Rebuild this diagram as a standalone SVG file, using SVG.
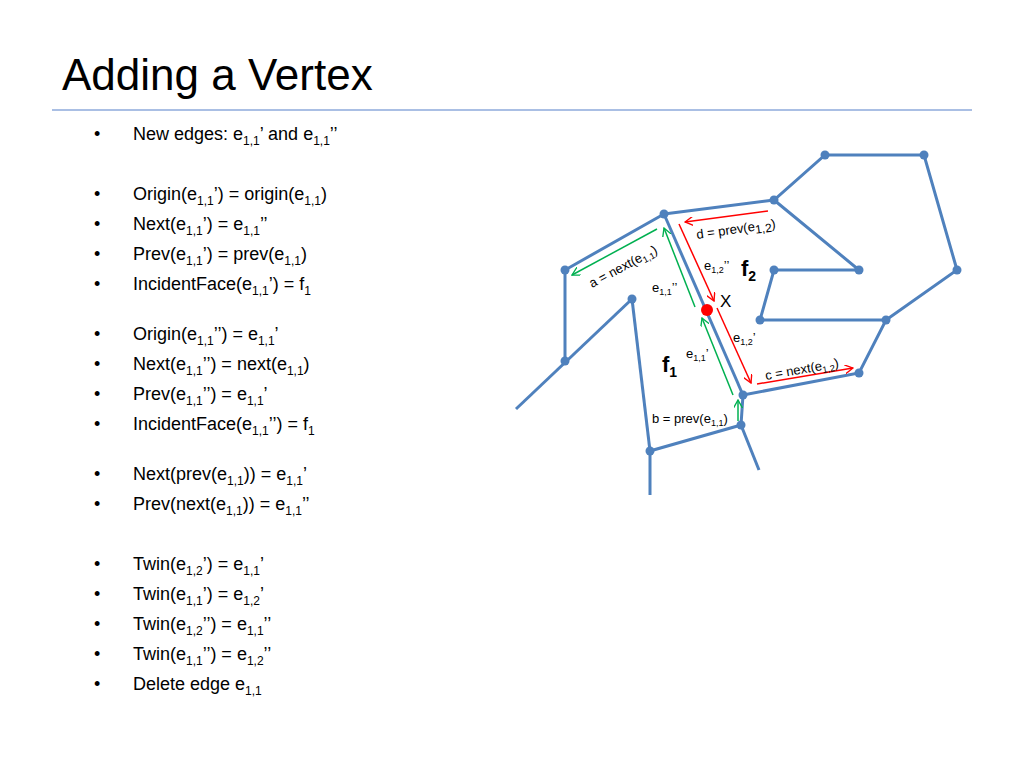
<svg xmlns="http://www.w3.org/2000/svg" width="1024" height="768" viewBox="0 0 1024 768">
<style>
text{font-family:"Liberation Sans",Arial,sans-serif;fill:#000}
.b{font-size:18px}
.s{font-size:12px}
.l{font-size:13px}
.e{stroke:#4f81bd;stroke-width:3;fill:none}
.n{fill:#4f81bd}
.g{stroke:#00b050;stroke-width:1.5;fill:none}
.r{stroke:#ff0000;stroke-width:1.5;fill:none}
</style>
<defs>
<marker id="ag" viewBox="0 0 10 10" refX="9" refY="5" markerWidth="9" markerHeight="9" orient="auto" markerUnits="userSpaceOnUse"><path d="M0,0L9,5L0,10" fill="none" stroke="#00b050" stroke-width="1.5"/></marker>
<marker id="ar" viewBox="0 0 10 10" refX="9" refY="5" markerWidth="9" markerHeight="9" orient="auto" markerUnits="userSpaceOnUse"><path d="M0,0L9,5L0,10" fill="none" stroke="#ff0000" stroke-width="1.5"/></marker>
</defs>
<rect width="1024" height="768" fill="#fff"/>
<text x="62" y="90" font-size="44">Adding a Vertex</text>
<line x1="52" y1="110" x2="972" y2="110" stroke="#8eaadb" stroke-width="1.5"/>
<g class="b">
<text x="94" y="140">•</text><text x="133" y="140">New edges: e<tspan class="s" dy="5">1,1</tspan><tspan dy="-5">’ and e</tspan><tspan class="s" dy="5">1,1</tspan><tspan dy="-5">’’</tspan></text>
<text x="94" y="200">•</text><text x="133" y="200">Origin(e<tspan class="s" dy="5">1,1</tspan><tspan dy="-5">’) = origin(e</tspan><tspan class="s" dy="5">1,1</tspan><tspan dy="-5">)</tspan></text>
<text x="94" y="230">•</text><text x="133" y="230">Next(e<tspan class="s" dy="5">1,1</tspan><tspan dy="-5">’) = e</tspan><tspan class="s" dy="5">1,1</tspan><tspan dy="-5">’’</tspan></text>
<text x="94" y="260">•</text><text x="133" y="260">Prev(e<tspan class="s" dy="5">1,1</tspan><tspan dy="-5">’) = prev(e</tspan><tspan class="s" dy="5">1,1</tspan><tspan dy="-5">)</tspan></text>
<text x="94" y="290">•</text><text x="133" y="290">IncidentFace(e<tspan class="s" dy="5">1,1</tspan><tspan dy="-5">’) = f</tspan><tspan class="s" dy="5">1</tspan></text>
<text x="94" y="340">•</text><text x="133" y="340">Origin(e<tspan class="s" dy="5">1,1</tspan><tspan dy="-5">’’) = e</tspan><tspan class="s" dy="5">1,1</tspan><tspan dy="-5">’</tspan></text>
<text x="94" y="370">•</text><text x="133" y="370">Next(e<tspan class="s" dy="5">1,1</tspan><tspan dy="-5">’’) = next(e</tspan><tspan class="s" dy="5">1,1</tspan><tspan dy="-5">)</tspan></text>
<text x="94" y="400">•</text><text x="133" y="400">Prev(e<tspan class="s" dy="5">1,1</tspan><tspan dy="-5">’’) = e</tspan><tspan class="s" dy="5">1,1</tspan><tspan dy="-5">’</tspan></text>
<text x="94" y="430">•</text><text x="133" y="430">IncidentFace(e<tspan class="s" dy="5">1,1</tspan><tspan dy="-5">’’) = f</tspan><tspan class="s" dy="5">1</tspan></text>
<text x="94" y="480">•</text><text x="133" y="480">Next(prev(e<tspan class="s" dy="5">1,1</tspan><tspan dy="-5">)) = e</tspan><tspan class="s" dy="5">1,1</tspan><tspan dy="-5">’</tspan></text>
<text x="94" y="510">•</text><text x="133" y="510">Prev(next(e<tspan class="s" dy="5">1,1</tspan><tspan dy="-5">)) = e</tspan><tspan class="s" dy="5">1,1</tspan><tspan dy="-5">’’</tspan></text>
<text x="94" y="570">•</text><text x="133" y="570">Twin(e<tspan class="s" dy="5">1,2</tspan><tspan dy="-5">’) = e</tspan><tspan class="s" dy="5">1,1</tspan><tspan dy="-5">’</tspan></text>
<text x="94" y="600">•</text><text x="133" y="600">Twin(e<tspan class="s" dy="5">1,1</tspan><tspan dy="-5">’) = e</tspan><tspan class="s" dy="5">1,2</tspan><tspan dy="-5">’</tspan></text>
<text x="94" y="630">•</text><text x="133" y="630">Twin(e<tspan class="s" dy="5">1,2</tspan><tspan dy="-5">’’) = e</tspan><tspan class="s" dy="5">1,1</tspan><tspan dy="-5">’’</tspan></text>
<text x="94" y="660">•</text><text x="133" y="660">Twin(e<tspan class="s" dy="5">1,1</tspan><tspan dy="-5">’’) = e</tspan><tspan class="s" dy="5">1,2</tspan><tspan dy="-5">’’</tspan></text>
<text x="94" y="690">•</text><text x="133" y="690">Delete edge e<tspan class="s" dy="5">1,1</tspan></text>
</g>
<g id="connectors">
<polyline class="e" points="664,214 774,200 825,155 924,155 957,270 886,320 859,373 743,395 741,425 650,451 650,495"/>
<polyline class="e" points="774,200 859,270 774,270 760,320 886,320"/>
<polyline class="e" points="664,214 565,270 565,361"/>
<line class="e" x1="516" y1="409" x2="632" y2="299"/>
<line class="e" x1="632" y1="299" x2="650" y2="451"/>
<line class="e" x1="741" y1="425" x2="759" y2="470"/>
<line class="e" x1="664" y1="214" x2="743" y2="395"/>
<line class="g" x1="695" y1="307" x2="664" y2="228" marker-end="url(#ag)"/>
<line class="g" x1="733" y1="395" x2="702" y2="318" marker-end="url(#ag)"/>
<line class="g" x1="738" y1="421" x2="738" y2="400" marker-end="url(#ag)"/>
<line class="g" x1="657" y1="229" x2="572" y2="275" marker-end="url(#ag)"/>
<line class="r" x1="768" y1="211" x2="685" y2="222" marker-end="url(#ar)"/>
<line class="r" x1="679" y1="224" x2="714" y2="301" marker-end="url(#ar)"/>
<line class="r" x1="717" y1="308" x2="751" y2="383" marker-end="url(#ar)"/>
<line class="r" x1="757" y1="384" x2="853" y2="368" marker-end="url(#ar)"/>
</g>
<g id="nodes" class="n">
<circle cx="664" cy="214" r="4.5"/><circle cx="774" cy="200" r="4.5"/><circle cx="825" cy="155" r="4.5"/><circle cx="924" cy="155" r="4.5"/>
<circle cx="957" cy="270" r="4.5"/><circle cx="886" cy="320" r="4.5"/><circle cx="859" cy="373" r="4.5"/><circle cx="743" cy="395" r="4.5"/>
<circle cx="741" cy="425" r="4.5"/><circle cx="650" cy="451" r="4.5"/><circle cx="859" cy="270" r="4.5"/><circle cx="774" cy="270" r="4.5"/>
<circle cx="760" cy="320" r="4.5"/><circle cx="565" cy="270" r="4.5"/><circle cx="565" cy="361" r="4.5"/><circle cx="632" cy="299" r="4.5"/>
</g>
<circle id="x" cx="707" cy="310" r="6" fill="#ff0000"/>
<g id="labels" class="l">
<text x="697" y="239" transform="rotate(-8 697 239)">d = prev(e<tspan class="s" font-size="9" dy="3">1,2</tspan><tspan dy="-3">)</tspan></text>
<text x="592" y="288" transform="rotate(-28 592 288)">a = next(e<tspan font-size="9" dy="3">1,1</tspan><tspan dy="-3">)</tspan></text>
<text x="766" y="380" transform="rotate(-10 766 380)">c = next(e<tspan font-size="9" dy="3">1,2</tspan><tspan dy="-3">)</tspan></text>
<text x="652" y="423">b = prev(e<tspan font-size="9" dy="3">1,1</tspan><tspan dy="-3">)</tspan></text>
<text x="704" y="270">e<tspan font-size="9" dy="3">1,2</tspan><tspan dy="-3">’’</tspan></text>
<text x="652" y="292">e<tspan font-size="9" dy="3">1,1</tspan><tspan dy="-3">’’</tspan></text>
<text x="733" y="342">e<tspan font-size="9" dy="3">1,2</tspan><tspan dy="-3">’</tspan></text>
<text x="686" y="358">e<tspan font-size="9" dy="3">1,1</tspan><tspan dy="-3">’</tspan></text>
<text x="720" y="307" font-size="17">X</text>
<text x="741" y="276" font-size="22" font-weight="bold">f<tspan font-size="14" dy="5">2</tspan></text>
<text x="662" y="372" font-size="22" font-weight="bold">f<tspan font-size="14" dy="5">1</tspan></text>
</g>
</svg>
